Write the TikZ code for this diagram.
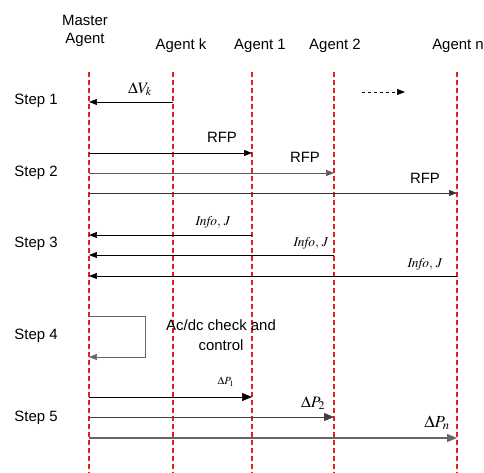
\documentclass[tikz,border=0pt]{standalone}
\usepackage{mathptmx}
\usepackage{fontspec}
\setmainfont{Liberation Sans}
\usetikzlibrary{arrows.meta}
\definecolor{lifered}{RGB}{230,30,30}
\begin{document}
\begin{tikzpicture}[x=1bp, y=-1bp,
		lifeline/.style={draw=lifered, line width=1.1bp, dash pattern=on 5bp off 3bp},
		msg/.style={-{Triangle[length=8pt,width=6pt]}, line width=0.7pt},
		bigmsg/.style={-{Triangle[length=10pt,width=8pt]}},
		lbl/.style={font=\fontsize{15}{17}\selectfont, inner sep=0pt}]
	\useasboundingbox (0,0) rectangle (484,473);
	% lifelines
	\foreach \n/\x in {mst/89,agk/173,ag1/252,ag2/334,agn/457}{
		\coordinate (\n) at (\x,72);
		\coordinate (\n end) at (\x,473);
		\draw[lifeline] (\n) -- (\n end);
	}
	\node[lbl] (master) at (85,20) {Master};
	\node[lbl] (mastersub) at (85,40) {Agent};
	\foreach \n/\x/\t in {agk/181/k,ag1/260/1,ag2/335/2,agn/458/n}{
		\node[lbl] (head \n) at (\x,46) {Agent \t};
	}
	\foreach \i/\y in {1/101,2/173,3/244,4/336,5/418}{
		\node[lbl] (step\i) at (36,\y) {Step \i};
	}
	% step 1
	\draw[msg] (agk |- 0,102) -- (mst |- 0,102);
	\node[font=\fontsize{16}{18}\selectfont, inner sep=0pt] (dv) at (140,89) {$\Delta V_k$};
	\coordinate (more) at (362,92);
	\coordinate (more end) at (405,92);
	\draw[msg, dashed] (more) -- (more end);
	% step 2
	\draw[msg] (mst |- 0,153) -- (ag1 |- 0,153);
	\draw[msg, black!65] (mst |- 0,173) -- (ag2 |- 0,173);
	\draw[msg, black!80] (mst |- 0,193) -- (agn |- 0,193);
	\foreach \x/\y in {222/137,305/157,425/178}{
		\node[lbl] at (\x,\y) {RFP};
	}
	% step 3
	\foreach \n/\y/\x/\ly in {ag1/235/213/222,ag2/255/311/243,agn/276/425/264}{
		\draw[msg] (\n |- 0,\y) -- (mst |- 0,\y);
		\node[font=\fontsize{13.5}{15}\selectfont, inner sep=0pt] at (\x,\ly) {$\mathit{Info},\,J$};
	}
	% step 4
	\coordinate (loop a) at (145,316);
	\coordinate (loop b) at (145,357);
	\draw[msg, black!60] (mst |- 0,316) -- (loop a) -- (loop b) -- (mst |- 0,357);
	\node[lbl] (check) at (221,325) {Ac/dc check and};
	\node[lbl] (control) at (221,345) {control};
	% step 5
	\draw[msg, bigmsg] (mst |- 0,397) -- (ag1 |- 0,397);
	\draw[msg, bigmsg, black!75, line width=1pt] (mst |- 0,417) -- (ag2 |- 0,417);
	\draw[msg, bigmsg, black!60, line width=1.3pt] (mst |- 0,438) -- (agn |- 0,438);
	\node[font=\fontsize{11}{13}\selectfont, inner sep=0pt] (dp1) at (226,382) {$\Delta P_1$};
	\node[font=\fontsize{16}{18}\selectfont, inner sep=0pt] (dp2) at (313,403) {$\Delta P_2$};
	\node[font=\fontsize{17}{19}\selectfont, inner sep=0pt] (dpn) at (437,423) {$\Delta P_n$};
\end{tikzpicture}
\end{document}
